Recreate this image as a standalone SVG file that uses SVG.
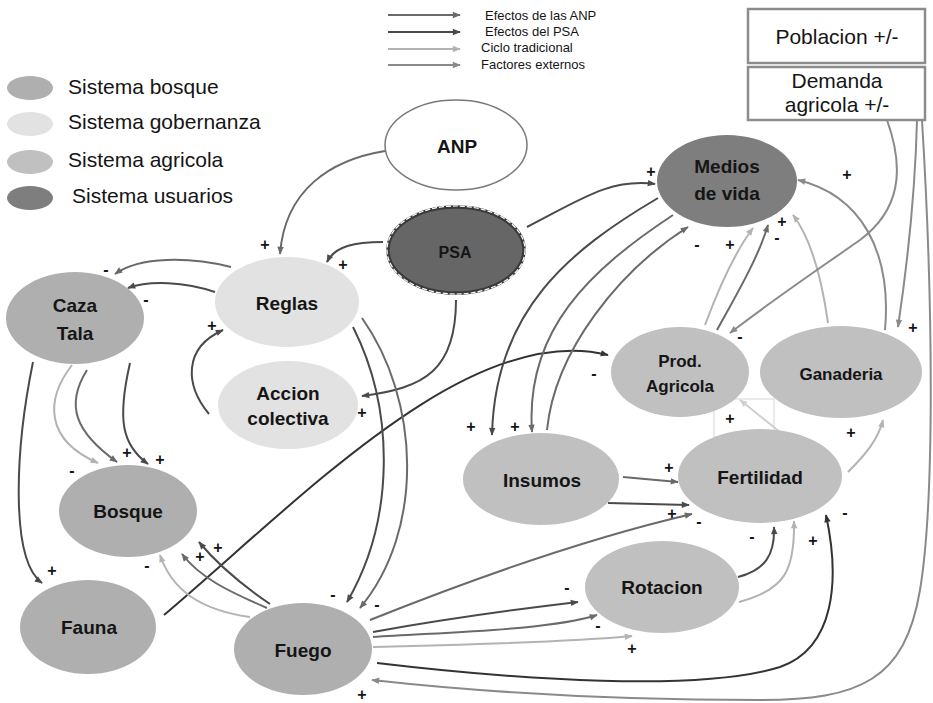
<svg xmlns="http://www.w3.org/2000/svg" width="933" height="703" viewBox="0 0 933 703">
<style>
.n{font-family:"Liberation Sans",Arial,sans-serif;font-weight:bold;font-size:19px;fill:#151515;text-anchor:middle}
.lg{font-family:"Liberation Sans",Arial,sans-serif;font-size:21px;fill:#151515}
.tl{font-family:"Liberation Sans",Arial,sans-serif;font-size:13px;fill:#151515}
.bx{font-family:"Liberation Sans",Arial,sans-serif;font-size:21px;fill:#151515;text-anchor:middle}
.s{font-family:"Liberation Sans",Arial,sans-serif;font-weight:bold;font-size:16px;fill:#151515;text-anchor:middle}
.bo{fill:#afafaf}
.go{fill:#e2e2e2}
.ag{fill:#c0c0c0}
.us{fill:#7e7e7e}
.e{fill:none;stroke-width:2}
.c1{stroke:#333}
.c2{stroke:#4a4a4a}
.c3{stroke:#6a6a6a}
.c4{stroke:#8a8a8a}
.c5{stroke:#b3b3b3}
.c6{stroke:#cfcfcf}
</style>
<defs>
<marker id="m1" viewBox="0 0 10 10" refX="9" refY="5" markerWidth="9" markerHeight="8" markerUnits="userSpaceOnUse" orient="auto"><path d="M0,1 L10,5 L0,9 z" fill="#333"/></marker>
<marker id="m2" viewBox="0 0 10 10" refX="9" refY="5" markerWidth="9" markerHeight="8" markerUnits="userSpaceOnUse" orient="auto"><path d="M0,1 L10,5 L0,9 z" fill="#4a4a4a"/></marker>
<marker id="m3" viewBox="0 0 10 10" refX="9" refY="5" markerWidth="9" markerHeight="8" markerUnits="userSpaceOnUse" orient="auto"><path d="M0,1 L10,5 L0,9 z" fill="#6a6a6a"/></marker>
<marker id="m4" viewBox="0 0 10 10" refX="9" refY="5" markerWidth="9" markerHeight="8" markerUnits="userSpaceOnUse" orient="auto"><path d="M0,1 L10,5 L0,9 z" fill="#8a8a8a"/></marker>
<marker id="m5" viewBox="0 0 10 10" refX="9" refY="5" markerWidth="9" markerHeight="8" markerUnits="userSpaceOnUse" orient="auto"><path d="M0,1 L10,5 L0,9 z" fill="#b3b3b3"/></marker>
<marker id="m6" viewBox="0 0 10 10" refX="9" refY="5" markerWidth="9" markerHeight="8" markerUnits="userSpaceOnUse" orient="auto"><path d="M0,1 L10,5 L0,9 z" fill="#cfcfcf"/></marker>
</defs>
<rect width="933" height="703" fill="#ffffff"/>

<g id="legend-arrows">
<line class="e c3" x1="388" y1="15" x2="460" y2="15" marker-end="url(#m3)"/>
<line class="e c2" x1="388" y1="32" x2="460" y2="32" stroke-width="2.5" marker-end="url(#m2)"/>
<line class="e c5" x1="388" y1="49" x2="460" y2="49" marker-end="url(#m5)"/>
<line class="e c4" x1="388" y1="65" x2="460" y2="65" marker-end="url(#m4)"/>
<text class="tl" x="485" y="20">Efectos de las ANP</text>
<text class="tl" x="485" y="36">Efectos del PSA</text>
<text class="tl" x="481" y="52">Ciclo tradicional</text>
<text class="tl" x="481" y="69">Factores externos</text>
</g>

<g id="legend-systems">
<ellipse class="bo" cx="30" cy="88" rx="23" ry="12"/>
<text class="lg" x="68" y="94">Sistema bosque</text>
<ellipse class="go" cx="30" cy="124" rx="23" ry="12"/>
<text class="lg" x="68" y="129">Sistema gobernanza</text>
<ellipse class="ag" cx="30" cy="162" rx="23" ry="12"/>
<text class="lg" x="68" y="167">Sistema agricola</text>
<ellipse class="us" cx="30" cy="198" rx="23" ry="12"/>
<text class="lg" x="72" y="203">Sistema usuarios</text>
</g>

<g id="connectors">
<path class="e c3" d="M385,151 C330,160 285,190 280,254" marker-end="url(#m3)"/>
<path class="e c2" d="M383,242 C355,242 335,246 327,262" marker-end="url(#m2)"/>
<path class="e c2" d="M527,227 C580,200 610,178 655,184" marker-end="url(#m2)"/>
<path class="e c2" d="M456,300 C456,370 425,388 362,396" marker-end="url(#m2)"/>
<path class="e c3" d="M231,267 C190,257 140,256 115,274" marker-end="url(#m3)"/>
<path class="e c2" d="M215,292 C185,282 150,280 128,288" marker-end="url(#m2)"/>
<path class="e c2" d="M209,414 C185,385 183,348 223,330" marker-end="url(#m2)"/>
<path class="e c5" d="M72,365 C45,400 45,440 98,463" marker-end="url(#m5)"/>
<path class="e c3" d="M87,370 C65,405 75,432 117,462" marker-end="url(#m3)"/>
<path class="e c2" d="M130,363 C117,420 122,445 148,464" marker-end="url(#m2)"/>
<path class="e c2" d="M33,362 C15,450 10,560 42,583" marker-end="url(#m2)"/>
<path class="e c1" d="M164,615 C300,500 470,320 608,355" marker-end="url(#m1)"/>
<path class="e c2" d="M353,327 C395,410 395,520 347,602" marker-end="url(#m2)"/>
<path class="e c3" d="M362,318 C420,400 425,530 360,608" marker-end="url(#m3)"/>
<path class="e c5" d="M250,617 C200,610 172,590 160,555" marker-end="url(#m5)"/>
<path class="e c3" d="M267,608 C230,592 200,578 182,554" marker-end="url(#m3)"/>
<path class="e c2" d="M270,604 C242,585 218,565 199,542" marker-end="url(#m2)"/>
<path class="e c3" d="M370,620 C470,580 580,540 692,514" marker-end="url(#m3)"/>
<path class="e c2" d="M373,632 C440,620 510,610 578,602" marker-end="url(#m2)"/>
<path class="e c3" d="M373,637 C450,632 550,630 597,615" marker-end="url(#m3)"/>
<path class="e c5" d="M373,647 C450,645 560,643 632,636" marker-end="url(#m5)"/>
<path class="e c1" d="M377,663 C520,680 700,692 780,667 C835,648 840,580 826,515" marker-end="url(#m1)"/>
<path class="e c4" d="M922,120 C933,300 935,500 920,590 C905,680 860,700 760,700 C600,700 480,692 372,680" marker-end="url(#m4)"/>
<path class="e c2" d="M658,198 C570,250 495,310 492,435" marker-end="url(#m2)"/>
<path class="e c3" d="M673,215 C590,270 525,330 532,432" marker-end="url(#m3)"/>
<path class="e c3" d="M547,430 C555,350 620,270 688,227" marker-end="url(#m3)"/>
<path class="e c5" d="M705,325 C718,290 735,252 753,228" marker-end="url(#m5)"/>
<path class="e c3" d="M717,330 C738,292 758,258 768,225" marker-end="url(#m3)"/>
<path class="e c5" d="M828,323 C822,280 812,240 793,215" marker-end="url(#m5)"/>
<path class="e c4" d="M885,330 C892,250 860,195 798,180" marker-end="url(#m4)"/>
<path class="e c4" d="M887,120 C905,170 900,210 860,240 C810,275 770,302 730,333" marker-end="url(#m4)"/>
<path class="e c4" d="M917,120 C915,200 905,280 898,327" marker-end="url(#m4)"/>
<path class="e c3" d="M623,477 L678,482" marker-end="url(#m3)"/>
<path class="e c2" d="M608,503 L689,505" marker-end="url(#m2)"/>
<path class="e c2" d="M738,577 C765,570 775,555 774,527" marker-end="url(#m2)"/>
<path class="e c5" d="M739,602 C785,590 795,570 794,521" marker-end="url(#m5)"/>
<path class="e c6" d="M780,432 L740,400" marker-end="url(#m6)"/>
<path class="e c5" d="M848,472 C865,455 878,440 883,420" marker-end="url(#m5)"/>
<rect x="714" y="399" width="60" height="38" fill="none" stroke="#d6d6d6" stroke-width="1"/>
</g>

<g id="signs">
<text class="s" x="265" y="250">+</text>
<text class="s" x="343" y="270">+</text>
<text class="s" x="651" y="177">+</text>
<text class="s" x="362" y="418">+</text>
<text class="s" x="106" y="275">-</text>
<text class="s" x="146" y="305">-</text>
<text class="s" x="212" y="331">+</text>
<text class="s" x="72" y="476">-</text>
<text class="s" x="127" y="458">+</text>
<text class="s" x="160" y="465">+</text>
<text class="s" x="52" y="576">+</text>
<text class="s" x="594" y="379">-</text>
<text class="s" x="333" y="600">-</text>
<text class="s" x="377" y="610">-</text>
<text class="s" x="147" y="571">-</text>
<text class="s" x="200" y="562">+</text>
<text class="s" x="218" y="553">+</text>
<text class="s" x="669" y="473">+</text>
<text class="s" x="672" y="519">+</text>
<text class="s" x="699" y="527">-</text>
<text class="s" x="567" y="593">-</text>
<text class="s" x="598" y="631">-</text>
<text class="s" x="632" y="654">+</text>
<text class="s" x="752" y="542">-</text>
<text class="s" x="813" y="546">+</text>
<text class="s" x="845" y="518">-</text>
<text class="s" x="362" y="700">+</text>
<text class="s" x="471" y="432">+</text>
<text class="s" x="515" y="432">+</text>
<text class="s" x="697" y="250">-</text>
<text class="s" x="730" y="250">+</text>
<text class="s" x="782" y="227">+</text>
<text class="s" x="777" y="243">-</text>
<text class="s" x="847" y="180">+</text>
<text class="s" x="740" y="342">-</text>
<text class="s" x="913" y="333">+</text>
<text class="s" x="730" y="424">+</text>
<text class="s" x="851" y="438">+</text>
</g>

<g id="node-poblacion">
<rect x="748" y="9" width="177" height="54" fill="#ffffff" stroke="#8c8c8c" stroke-width="2.5"/>
<text class="bx" x="837" y="44">Poblacion +/-</text>
</g>
<g id="node-demanda">
<rect x="748" y="67" width="177" height="53" fill="#ffffff" stroke="#8c8c8c" stroke-width="2.5"/>
<text class="bx" x="837" y="88">Demanda</text>
<text class="bx" x="837" y="112">agricola +/-</text>
</g>
<g id="node-anp">
<ellipse cx="456" cy="145" rx="71" ry="45" fill="#ffffff" stroke="#7a7a7a" stroke-width="1.5"/>
<text class="n" x="457" y="153">ANP</text>
</g>
<g id="node-psa">
<ellipse cx="456" cy="250" rx="68" ry="43" fill="#666666" stroke="#3a3a3a" stroke-width="3.5"/>
<ellipse cx="456" cy="250" rx="69" ry="44" fill="none" stroke="#ffffff" stroke-width="1.2" stroke-dasharray="5 2"/>
<text class="n" x="455" y="258" style="font-size:16px">PSA</text>
</g>
<g id="node-reglas">
<ellipse class="go" cx="287" cy="302" rx="72" ry="45"/>
<text class="n" x="287" y="310">Reglas</text>
</g>
<g id="node-accion">
<ellipse class="go" cx="288" cy="405" rx="70" ry="44"/>
<text class="n" x="288" y="400">Accion</text>
<text class="n" x="288" y="425">colectiva</text>
</g>
<g id="node-caza">
<ellipse class="bo" cx="75" cy="318" rx="69" ry="46"/>
<text class="n" x="75" y="312">Caza</text>
<text class="n" x="75" y="340">Tala</text>
</g>
<g id="node-bosque">
<ellipse class="bo" cx="128" cy="511" rx="69" ry="46"/>
<text class="n" x="128" y="518">Bosque</text>
</g>
<g id="node-fauna">
<ellipse class="bo" cx="88" cy="627" rx="68" ry="47"/>
<text class="n" x="89" y="634">Fauna</text>
</g>
<g id="node-fuego">
<ellipse class="bo" cx="303" cy="649" rx="69" ry="46"/>
<text class="n" x="303" y="657">Fuego</text>
</g>
<g id="node-medios">
<ellipse class="us" cx="727" cy="181" rx="70" ry="46"/>
<text class="n" x="727" y="173">Medios</text>
<text class="n" x="727" y="200">de vida</text>
</g>
<g id="node-prod">
<ellipse class="ag" cx="680" cy="372" rx="69" ry="45"/>
<text class="n" x="680" y="367" style="font-size:17px">Prod.</text>
<text class="n" x="680" y="392" style="font-size:17px">Agricola</text>
</g>
<g id="node-ganaderia">
<ellipse class="ag" cx="841" cy="372" rx="81" ry="46"/>
<text class="n" x="841" y="380" style="font-size:17px">Ganaderia</text>
</g>
<g id="node-insumos">
<ellipse class="ag" cx="541" cy="479" rx="78" ry="46"/>
<text class="n" x="542" y="487">Insumos</text>
</g>
<g id="node-fertilidad">
<ellipse class="ag" cx="760" cy="476" rx="82" ry="47"/>
<text class="n" x="760" y="484">Fertilidad</text>
</g>
<g id="node-rotacion">
<ellipse class="ag" cx="662" cy="587" rx="77" ry="46"/>
<text class="n" x="662" y="594">Rotacion</text>
</g>
</svg>
